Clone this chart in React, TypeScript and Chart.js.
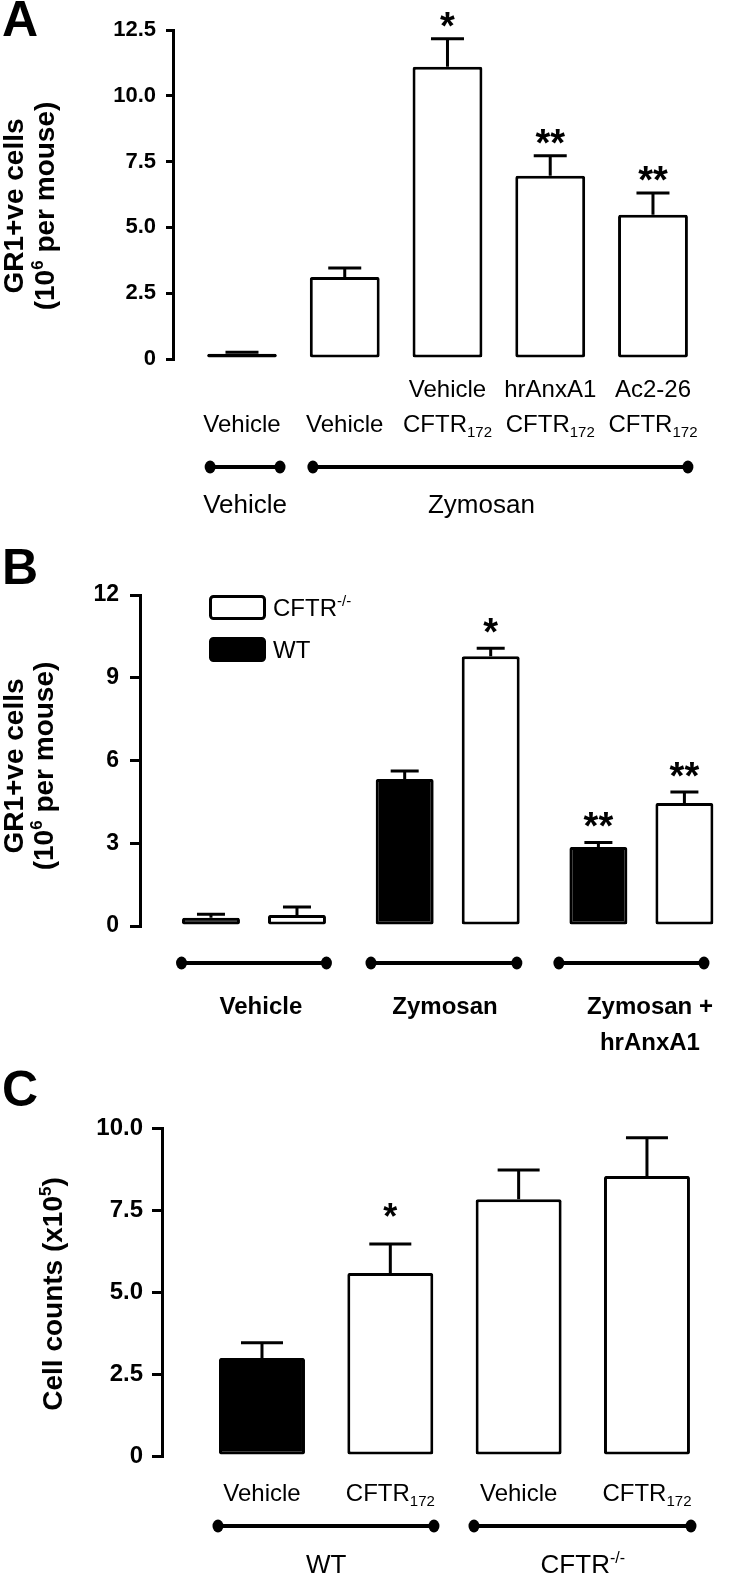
import React, { useEffect, useRef } from 'react';
import { Chart, registerables } from 'chart.js';

Chart.register(...registerables);

const FONT = "'Liberation Sans', Arial, Helvetica, sans-serif";

// ---------------- Panel A data ----------------
const aRow1 = ['', '', 'Vehicle', 'hrAnxA1', 'Ac2-26'];
const aRow2 = ['Vehicle', 'Vehicle', 'CFTR_{172}', 'CFTR_{172}', 'CFTR_{172}'];
const aValues = [0.2, 3.12, 11.1, 6.96, 5.48];
const aErrors = [0.06, 0.34, 1.07, 0.76, 0.83];
const aFills = ['#000000', '#ffffff', '#ffffff', '#ffffff', '#ffffff'];
const aStars = ['', '', '*', '**', '**'];
const aTicks = ['0', '2.5', '5.0', '7.5', '10.0', '12.5'];
const aGroups = [['Vehicle'], ['Zymosan']];
const aGroupFrom = [0.69, 1.69];
const aGroupTo = [1.37, 5.34];
const aGroupAt = [1.03, 3.33];
const aTitle = ['GR1+ve cells', '(10^{6} per mouse)'];

// ---------------- Panel B data ----------------
const bSeries = ['WT', 'CFTR^{-/-}'];
const bWT = [0.3, 5.33, 2.86];
const bWTErr = [0.13, 0.29, 0.17];
const bKO = [0.4, 9.78, 4.46];
const bKOErr = [0.29, 0.29, 0.4];
const bWTStars = ['', '', '**'];
const bKOStars = ['', '*', '**'];
const bTicks = ['0', '3', '6', '9', '12'];
const bGroups = [['Vehicle'], ['Zymosan'], ['Zymosan +', 'hrAnxA1']];
const bGroupFrom = [0.626, 1.604, 2.574];
const bGroupTo = [1.374, 2.357, 3.323];
const bGroupAt = [1.036, 1.986, 3.044];
const bTitle = ['GR1+ve cells', '(10^{6} per mouse)'];

// ---------------- Panel C data ----------------
const cLabels = ['Vehicle', 'CFTR_{172}', 'Vehicle', 'CFTR_{172}'];
const cValues = [2.99, 5.58, 7.83, 8.54];
const cErrors = [0.46, 0.88, 0.89, 1.16];
const cFills = ['#000000', '#ffffff', '#ffffff', '#ffffff'];
const cStars = ['', '*', '', ''];
const cTicks = ['0', '2.5', '5.0', '7.5', '10.0'];
const cGroups = [['WT'], ['CFTR^{-/-}']];
const cGroupFrom = [0.657, 2.652];
const cGroupTo = [2.34, 4.343];
const cGroupAt = [1.5, 3.5];
const cTitle = ['Cell counts (x10^{5})'];

// ---------------- rich text helpers ----------------
type Run = { t: string; k: number };
function parseRich(s: string): Run[] {
  const out: Run[] = [];
  const re = /([_^])\{([^}]*)\}/g;
  let last = 0;
  let m: RegExpExecArray | null;
  while ((m = re.exec(s))) {
    if (m.index > last) out.push({ t: s.slice(last, m.index), k: 0 });
    out.push({ t: m[2], k: m[1] === '_' ? 1 : 2 });
    last = re.lastIndex;
  }
  if (last < s.length) out.push({ t: s.slice(last), k: 0 });
  return out;
}

function drawRich(ctx: CanvasRenderingContext2D, s: string, x: number, y: number, size: number, weight: string, align: string) {
  const runs = parseRich(s);
  const small = Math.round(size * 0.62);
  const fontOf = (k: number) => `${weight} ${k ? small : size}px ${FONT}`;
  let total = 0;
  const widths = runs.map((r) => {
    ctx.font = fontOf(r.k);
    const w = ctx.measureText(r.t).width;
    total += w;
    return w;
  });
  let cx = align === 'center' ? x - total / 2 : align === 'right' ? x - total : x;
  ctx.textAlign = 'left';
  ctx.textBaseline = 'alphabetic';
  runs.forEach((r, i) => {
    ctx.font = fontOf(r.k);
    const dy = r.k === 1 ? size * 0.22 : r.k === 2 ? -size * 0.4 : 0;
    ctx.fillText(r.t, cx, y + dy);
    cx += widths[i];
  });
}

interface Spec {
  height: number;
  letter: string;
  letterY: number;
  padding: { left: number; top: number; right: number; bottom: number };
  xMin: number;
  xMax: number;
  yMax: number;
  yStep: number;
  ticks: string[];
  tickFont: number;
  tickLen: number;
  tickPad: number;
  datasets: any[];
  barPct: number;
  catPct: number;
  errors: number[][];
  stars: string[][];
  capW: number;
  starGap: number;
  starFont: number;
  rows: { labels: string[]; y: number }[];
  rowFont: number;
  groups: string[][];
  groupFrom: number[];
  groupTo: number[];
  groupAt: number[];
  bracketY: number;
  groupY: number;
  groupLineGap: number;
  groupFont: number;
  groupWeight: string;
  title: string[];
  titleX: number[];
  titleY: number;
  legend?: { x: number; ys: number[]; w: number; h: number; textX: number; order: number[] };
}

function makeChart(canvas: HTMLCanvasElement, s: Spec) {
  const decor = {
    id: 'decor',
    afterDatasetsDraw(chart: any) {
      const ctx: CanvasRenderingContext2D = chart.ctx;
      const xs = chart.scales.x;
      const ys = chart.scales.y;
      ctx.save();
      ctx.fillStyle = '#000';
      ctx.strokeStyle = '#000';

      // error bars and significance stars
      chart.data.datasets.forEach((ds: any, di: number) => {
        const meta = chart.getDatasetMeta(di);
        meta.data.forEach((el: any, i: number) => {
          const v = ds.data[i].y;
          const e = s.errors[di][i];
          const y0 = ys.getPixelForValue(v);
          const y1 = ys.getPixelForValue(v + e);
          ctx.lineWidth = 3;
          ctx.lineCap = 'butt';
          ctx.beginPath();
          ctx.moveTo(el.x, y0);
          ctx.lineTo(el.x, y1);
          ctx.moveTo(el.x - s.capW / 2, y1);
          ctx.lineTo(el.x + s.capW / 2, y1);
          ctx.stroke();
          const st = s.stars[di][i];
          if (st) {
            ctx.font = `bold ${s.starFont}px ${FONT}`;
            ctx.textAlign = 'center';
            ctx.textBaseline = 'alphabetic';
            ctx.fillText(st, el.x, y1 - s.starGap + s.starFont * 0.58);
          }
        });
      });

      // category label rows
      s.rows.forEach((row) => {
        row.labels.forEach((lab, i) => {
          if (!lab) return;
          drawRich(ctx, lab, xs.getPixelForValue(i + 1), row.y, s.rowFont, 'normal', 'center');
        });
      });

      // group brackets
      s.groups.forEach((lines, g) => {
        const x1 = xs.getPixelForValue(s.groupFrom[g]);
        const x2 = xs.getPixelForValue(s.groupTo[g]);
        ctx.lineWidth = 4;
        ctx.beginPath();
        ctx.moveTo(x1, s.bracketY);
        ctx.lineTo(x2, s.bracketY);
        ctx.stroke();
        [x1, x2].forEach((px) => {
          ctx.beginPath();
          ctx.ellipse(px, s.bracketY, 5.5, 6.5, 0, 0, Math.PI * 2);
          ctx.fill();
        });
        const cx = xs.getPixelForValue(s.groupAt[g]);
        lines.forEach((ln, li) => {
          drawRich(ctx, ln, cx, s.groupY + li * s.groupLineGap, s.groupFont, s.groupWeight, 'center');
        });
      });

      // rotated y title
      s.title.forEach((t, i) => {
        ctx.save();
        ctx.translate(s.titleX[i], s.titleY);
        ctx.rotate(-Math.PI / 2);
        drawRich(ctx, t, 0, 0, 28, 'bold', 'center');
        ctx.restore();
      });

      // panel letter
      ctx.font = `bold 50px ${FONT}`;
      ctx.textAlign = 'left';
      ctx.textBaseline = 'alphabetic';
      ctx.fillText(s.letter, 2, s.letterY);

      // legend
      if (s.legend) {
        const L = s.legend;
        L.order.forEach((di, k) => {
          const ds = chart.data.datasets[di];
          const y = L.ys[k];
          ctx.lineWidth = 3;
          ctx.fillStyle = ds.backgroundColor;
          ctx.beginPath();
          (ctx as any).roundRect(L.x + 1.5, y + 1.5, L.w - 3, L.h - 3, 3);
          ctx.fill();
          ctx.strokeStyle = '#000';
          ctx.stroke();
          ctx.fillStyle = '#000';
          drawRich(ctx, ds.label, L.textX, y + L.h / 2 + 8.5, 24, 'normal', 'left');
        });
      }
      ctx.restore();
    },
  };

  return new Chart(canvas, {
    type: 'bar',
    data: { datasets: s.datasets },
    options: {
      animation: false,
      responsive: false,
      devicePixelRatio: 1,
      layout: { padding: s.padding },
      plugins: {
        legend: { display: false },
        tooltip: { enabled: false },
        title: { display: false },
      },
      datasets: {
        bar: { barPercentage: s.barPct, categoryPercentage: s.catPct, grouped: true },
      },
      scales: {
        x: {
          type: 'linear',
          display: false,
          offset: false,
          min: s.xMin,
          max: s.xMax,
          ticks: { stepSize: 1, includeBounds: false },
        },
        y: {
          min: 0,
          max: s.yMax,
          afterFit: (sc: any) => {
            sc.width = 80;
          },
          border: { display: true, color: '#000', width: 3 },
          grid: {
            display: true,
            drawOnChartArea: false,
            drawTicks: true,
            tickLength: s.tickLen,
            tickWidth: 3,
            tickColor: '#000',
            lineWidth: 3,
            color: '#000',
          },
          ticks: {
            stepSize: s.yStep,
            padding: s.tickPad,
            color: '#000',
            font: { family: FONT, size: s.tickFont, weight: 'bold' },
            callback: (_v: any, i: number) => s.ticks[i],
          },
        },
      },
    } as any,
    plugins: [decor],
  });
}

const barStyle = { borderColor: '#000000', borderWidth: 3, borderSkipped: false, borderRadius: 2 };

const specA: Spec = {
  height: 540,
  letter: 'A',
  letterY: 36,
  padding: { left: 93, top: 30, right: 10, bottom: 181 },
  xMin: 0.3285,
  xMax: 5.847,
  yMax: 12.5,
  yStep: 2.5,
  ticks: aTicks,
  tickFont: 22,
  tickLen: 7,
  tickPad: 10,
  datasets: [
    {
      label: 'GR1+ve cells',
      data: aValues.map((v, i) => ({ x: i + 1, y: v })),
      backgroundColor: aFills,
      ...barStyle,
    },
  ],
  barPct: 0.68,
  catPct: 1,
  errors: [aErrors],
  stars: [aStars],
  capW: 33,
  starGap: 22,
  starFont: 38,
  rows: [
    { labels: aRow1, y: 397 },
    { labels: aRow2, y: 432 },
  ],
  rowFont: 24,
  groups: aGroups,
  groupFrom: aGroupFrom,
  groupTo: aGroupTo,
  groupAt: aGroupAt,
  bracketY: 467,
  groupY: 513,
  groupLineGap: 36,
  groupFont: 26,
  groupWeight: 'normal',
  title: aTitle,
  titleX: [23, 54],
  titleY: 206,
};

const specB: Spec = {
  height: 520,
  letter: 'B',
  letterY: 44,
  padding: { left: 60, top: 55, right: 10, bottom: 134 },
  xMin: 0.4116,
  xMax: 3.509,
  yMax: 12,
  yStep: 3,
  ticks: bTicks,
  tickFont: 23,
  tickLen: 10,
  tickPad: 11,
  datasets: [
    {
      label: bSeries[0],
      data: bWT.map((v, i) => ({ x: i + 1, y: v })),
      backgroundColor: '#000000',
      ...barStyle,
    },
    {
      label: bSeries[1],
      data: bKO.map((v, i) => ({ x: i + 1, y: v })),
      backgroundColor: '#ffffff',
      ...barStyle,
    },
  ],
  barPct: 0.674,
  catPct: 0.888,
  errors: [bWTErr, bKOErr],
  stars: [bWTStars, bKOStars],
  capW: 28,
  starGap: 25,
  starFont: 38,
  rows: [],
  rowFont: 24,
  groups: bGroups,
  groupFrom: bGroupFrom,
  groupTo: bGroupTo,
  groupAt: bGroupAt,
  bracketY: 423,
  groupY: 474,
  groupLineGap: 36,
  groupFont: 24,
  groupWeight: 'bold',
  title: bTitle,
  titleX: [23, 53],
  titleY: 226,
  legend: { x: 209, ys: [55, 97], w: 57, h: 25, textX: 273, order: [1, 0] },
};

const specC: Spec = {
  height: 516,
  letter: 'C',
  letterY: 46,
  padding: { left: 82, top: 68, right: 10, bottom: 120 },
  xMin: 0.2208,
  xMax: 4.725,
  yMax: 10,
  yStep: 2.5,
  ticks: cTicks,
  tickFont: 24,
  tickLen: 10,
  tickPad: 9,
  datasets: [
    {
      label: 'Cell counts',
      data: cValues.map((v, i) => ({ x: i + 1, y: v })),
      backgroundColor: cFills,
      ...barStyle,
    },
  ],
  barPct: 0.67,
  catPct: 1,
  errors: [cErrors],
  stars: [cStars],
  capW: 42,
  starGap: 36,
  starFont: 36,
  rows: [{ labels: cLabels, y: 441 }],
  rowFont: 24,
  groups: cGroups,
  groupFrom: cGroupFrom,
  groupTo: cGroupTo,
  groupAt: cGroupAt,
  bracketY: 466,
  groupY: 513,
  groupLineGap: 36,
  groupFont: 26,
  groupWeight: 'normal',
  title: cTitle,
  titleX: [62],
  titleY: 234,
};

export default function App() {
  const refA = useRef<HTMLCanvasElement>(null);
  const refB = useRef<HTMLCanvasElement>(null);
  const refC = useRef<HTMLCanvasElement>(null);

  useEffect(() => {
    const charts = [
      makeChart(refA.current as HTMLCanvasElement, specA),
      makeChart(refB.current as HTMLCanvasElement, specB),
      makeChart(refC.current as HTMLCanvasElement, specC),
    ];
    return () => charts.forEach((c) => c.destroy());
  }, []);

  return (
    <div style={{ position: 'absolute', left: 0, top: 0, width: 750, height: 1576, background: '#ffffff' }}>
      <canvas ref={refA} width={750} height={540} style={{ position: 'absolute', left: 0, top: 0 }} />
      <canvas ref={refB} width={750} height={520} style={{ position: 'absolute', left: 0, top: 540 }} />
      <canvas ref={refC} width={750} height={516} style={{ position: 'absolute', left: 0, top: 1060 }} />
    </div>
  );
}
